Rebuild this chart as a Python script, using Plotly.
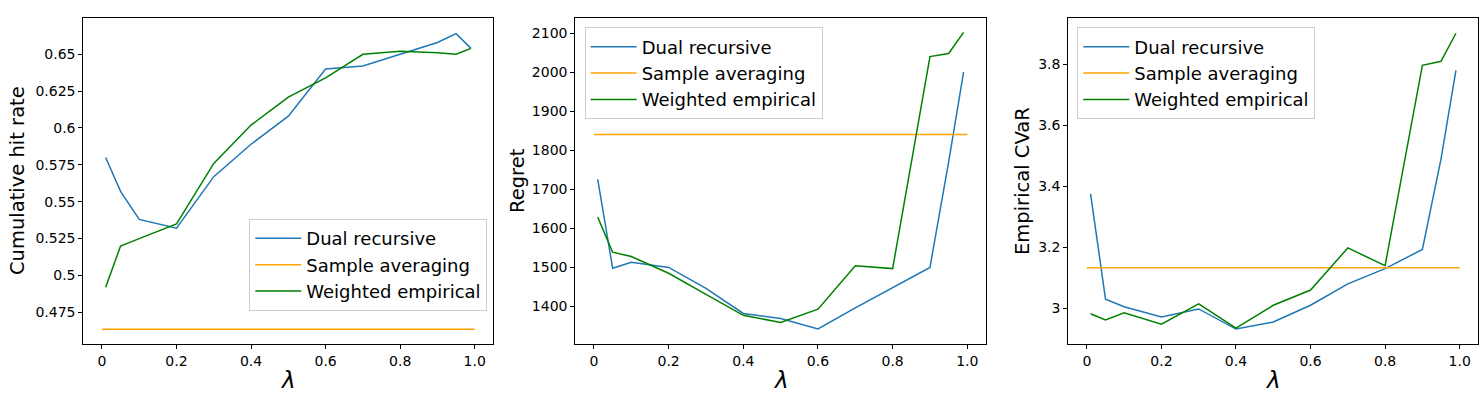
import plotly.graph_objects as go

# lambda grid
lam = [0.01, 0.05, 0.1, 0.2, 0.3, 0.4, 0.5, 0.6, 0.7, 0.8, 0.9, 0.95, 0.99]
lam_flat = [0, 1]

# panel 1: cumulative hit rate
hit_dual = [0.580, 0.557, 0.538, 0.532, 0.567, 0.589, 0.608, 0.640, 0.642, 0.650, 0.658, 0.664, 0.654]
hit_weighted = [0.492, 0.520, 0.525, 0.535, 0.576, 0.602, 0.621, 0.634, 0.650, 0.652, 0.651, 0.650, 0.654]
hit_sample = 0.4635

# panel 2: regret
reg_dual = [1725, 1497, 1512, 1499, 1445, 1381, 1368, 1341, 1395, 1447, 1499, 1770, 2000]
reg_weighted = [1628, 1538, 1527, 1484, 1430, 1376, 1358, 1392, 1503, 1496, 2040, 2048, 2102]
reg_sample = 1840

# panel 3: empirical CVaR
cvar_dual = [3.375, 3.03, 3.005, 2.972, 2.998, 2.932, 2.955, 3.01, 3.08, 3.13, 3.193, 3.49, 3.78]
cvar_weighted = [2.982, 2.962, 2.985, 2.948, 3.015, 2.935, 3.01, 3.06, 3.198, 3.14, 3.797, 3.81, 3.902]
cvar_sample = 3.133

x_ticks = [0, 0.2, 0.4, 0.6, 0.8, 1.0]
x_ticktext = ["0", "0.2", "0.4", "0.6", "0.8", "1.0"]
hit_ticks = [0.475, 0.5, 0.525, 0.55, 0.575, 0.6, 0.625, 0.65]
hit_ticktext = ["0.475", "0.5", "0.525", "0.55", "0.575", "0.6", "0.625", "0.65"]
reg_ticks = [1400, 1500, 1600, 1700, 1800, 1900, 2000, 2100]
cvar_ticks = [3.0, 3.2, 3.4, 3.6, 3.8]
cvar_ticktext = ["3", "3.2", "3.4", "3.6", "3.8"]

colors = {"dual": "#1f77b4", "sample": "#ffa500", "weighted": "#008000"}
FONT = "DejaVu Sans"

panels = [
    dict(dual=hit_dual, weighted=hit_weighted, sample=hit_sample, yrange=[0.4535, 0.6746],
         ticks=hit_ticks, ticktext=hit_ticktext, title="Cumulative hit rate", dom=[0.0562, 0.3329],
         title_x=17, legend=dict(x=0.3288, y=0.101, xanchor="right", yanchor="bottom")),
    dict(dual=reg_dual, weighted=reg_weighted, sample=reg_sample, yrange=[1302.5, 2139],
         ticks=reg_ticks, ticktext=[str(t) for t in reg_ticks], title="Regret", dom=[0.3882, 0.6653],
         title_x=517, legend=dict(x=0.3945, y=0.971, xanchor="left", yanchor="top")),
    dict(dual=cvar_dual, weighted=cvar_weighted, sample=cvar_sample, yrange=[2.883, 3.952],
         ticks=cvar_ticks, ticktext=cvar_ticktext, title="Empirical CVaR", dom=[0.7208, 0.9975],
         title_x=1022, legend=dict(x=0.7269, y=0.971, xanchor="left", yanchor="top")),
]

fig = go.Figure()
annotations = []
for i, p in enumerate(panels):
    n = "" if i == 0 else str(i + 1)
    leg = "legend" + n
    fig.add_trace(go.Scatter(x=lam, y=p["dual"], mode="lines", name="Dual recursive",
                             line=dict(color=colors["dual"], width=1.5), xaxis="x" + n, yaxis="y" + n, legend=leg))
    fig.add_trace(go.Scatter(x=lam_flat, y=[p["sample"]] * 2, mode="lines", name="Sample averaging",
                             line=dict(color=colors["sample"], width=1.5), xaxis="x" + n, yaxis="y" + n, legend=leg))
    fig.add_trace(go.Scatter(x=lam, y=p["weighted"], mode="lines", name="Weighted empirical",
                             line=dict(color=colors["weighted"], width=1.5), xaxis="x" + n, yaxis="y" + n, legend=leg))
    axis_common = dict(showline=True, mirror=True, linecolor="black", linewidth=1, ticks="outside",
                       ticklen=4, tickcolor="black", showgrid=False, zeroline=False,
                       tickfont=dict(size=14, color="black", family=FONT))
    fig.update_layout({
        "xaxis" + n: dict(axis_common, domain=p["dom"], range=[-0.05, 1.05], tickvals=x_ticks,
                          ticktext=x_ticktext, anchor="y" + n),
        "yaxis" + n: dict(axis_common, domain=[0, 1], range=p["yrange"], tickvals=p["ticks"],
                          ticktext=p["ticktext"], anchor="x" + n),
        leg: dict(p["legend"], bgcolor="rgba(255,255,255,0.8)", bordercolor="#cccccc", borderwidth=1,
                  itemwidth=46, font=dict(size=18, color="black", family=FONT)),
    })
    annotations.append(dict(text=p["title"], x=p["title_x"] / 1482, y=0.5, xref="paper", yref="paper",
                            textangle=-90, showarrow=False, xanchor="center", yanchor="middle",
                            font=dict(size=19.5, color="black", family=FONT)))
    annotations.append(dict(text="<i>λ</i>", x=(p["dom"][0] + p["dom"][1]) / 2, y=-0.11, xref="paper",
                            yref="paper", showarrow=False, xanchor="center", yanchor="middle",
                            font=dict(size=23, color="black", family=FONT)))

fig.update_layout(width=1482, height=395, margin=dict(l=0, r=0, t=18, b=51),
                  paper_bgcolor="white", plot_bgcolor="white", showlegend=True,
                  annotations=annotations)
fig.write_html("out.html", config={"displayModeBar": False},
               post_script="document.body.style.margin='0';document.body.style.overflow='hidden';")
